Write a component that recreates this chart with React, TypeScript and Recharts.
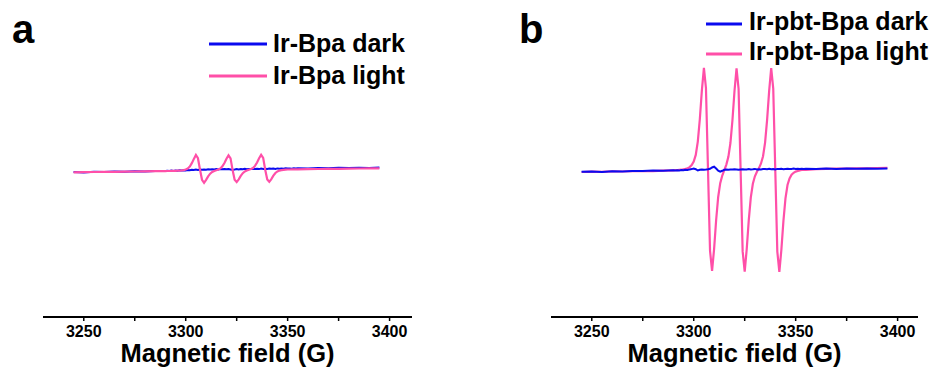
import { Legend, Line, LineChart, XAxis, YAxis } from "recharts";

// magnetic field (G) at which each point was read, finer around the three lines
const fields = [
  3245, 3250, 3255, 3260, 3265, 3270, 3275, 3280, 3285,
  3290, 3291, 3292, 3293, 3294, 3295, 3296, 3297, 3298, 3299,
  3300, 3301, 3302, 3303, 3304, 3305, 3306, 3307, 3308, 3309,
  3310, 3311, 3312, 3313, 3314, 3315, 3316, 3317, 3318, 3319,
  3320, 3321, 3322, 3323, 3324, 3325, 3326, 3327, 3328, 3329,
  3330, 3331, 3332, 3333, 3334, 3335, 3336, 3337, 3338, 3339,
  3340, 3341, 3342, 3343, 3344, 3345, 3346, 3347, 3348, 3349,
  3350, 3351, 3352, 3353, 3354, 3355,
  3360, 3365, 3370, 3375, 3380, 3385, 3390, 3395,
];

// panel a: Ir-Bpa
const aDark = [
  -2.0, -2.4, -1.7, -2.0, -1.5, -1.8, -1.2, -1.5, -0.9,
  -1.1, -0.8, -1.0, -0.6, -0.9, -0.5, -0.7, -0.3, -0.6, -0.2,
  -0.4, 0.0, -0.3, 0.2, 0.0, 0.4, 0.1, 0.5, 0.2, 0.6,
  0.3, 0.7, 0.4, 0.8, 0.5, 0.9, 0.6, 1.0, 0.7, 1.1,
  0.8, 1.0, 0.6, 0.2, 0.5, 0.9, 0.6, 1.0, 0.7, 1.2,
  0.8, 1.1, 0.9, 1.3, 1.0, 1.2, 0.9, 1.4, 1.1, 1.3,
  1.0, 1.5, 1.2, 1.4, 1.1, 1.6, 1.3, 1.5, 1.2, 1.7,
  1.4, 1.6, 1.3, 1.7, 1.5, 1.8,
  1.6, 2.0, 1.8, 2.2, 1.9, 2.3, 2.1, 2.4,
];
const aLight = [
  -2.3, -2.1, -2.0, -1.9, -1.8, -1.6, -1.5, -1.4, -1.2,
  -1.1, -1.0, -1.0, -0.9, -0.9, -0.8, -0.7, -0.6, -0.4, -0.1,
  0.5, 1.5, 3.5, 6.8, 11.1, 15.0, 11.8, 0.5, -9.8, -12.8,
  -9.8, -6.4, -3.7, -2.0, -1.0, -0.3, 0.5, 1.6, 3.7, 7.0,
  11.3, 14.7, 11.7, -0.1, -9.8, -12.1, -9.4, -5.9, -3.2, -1.5,
  -0.6, 0.2, 0.9, 2.0, 4.1, 7.5, 11.7, 15.1, 12.1, 0.2,
  -9.4, -11.8, -9.1, -5.7, -3.0, -1.4, -0.6, -0.2, 0.1, 0.3,
  0.5, 0.5, 0.6, 0.6, 0.7, 0.7,
  0.9, 1.0, 1.1, 1.2, 1.4, 1.5, 1.6, 1.7,
];

// panel b: Ir-pbt-Bpa
const bDark = [
  -1.8, -1.5, -1.9, -1.2, -1.4, -0.9, -1.1, -0.6, -0.8,
  -0.3, -0.5, -0.2, -0.4, 0.0, -0.2, 0.3, 0.1, 0.6, 0.9,
  1.5, 0.8, -0.5, 0.2, 0.6, 0.3, 0.5, 0.8, 1.2, 2.5,
  3.3, 1.5, -0.6, -1.6, -0.8, 0.2, 0.5, 0.3, 0.6, 0.4,
  0.7, 0.5, 0.3, 0.6, 0.8, 0.4, 0.6, 0.9, 0.5, 0.7,
  1.1, 0.6, 0.8, 0.5, 0.9, 1.0, 0.7, 1.2, 0.8, 1.0,
  0.6, 1.1, 0.9, 1.3, 0.8, 1.0, 1.2, 0.9, 1.1, 1.4,
  1.0, 1.2, 0.9, 1.3, 1.1, 1.2,
  1.0, 1.4, 1.1, 1.6, 1.2, 1.5, 1.3, 1.6,
];
const bLight = [
  -2.0, -1.7, -1.8, -1.4, -1.5, -1.2, -1.0, -1.1, -0.7,
  -0.3, -0.2, -0.1, 0.1, 0.3, 0.8, 1.2, 1.8, 2.9, 4.9,
  8.5, 15.1, 28.4, 51.0, 79.6, 102.1, 82.0, 0.6, -80.8, -100.8,
  -78.8, -50.0, -27.0, -13.2, -5.5, -0.1, 5.4, 13.2, 27.0, 50.0,
  79.0, 101.6, 81.3, 0.0, -81.4, -101.6, -79.0, -50.2, -27.4, -13.8,
  -6.3, -1.7, 1.9, 6.5, 13.8, 27.4, 50.4, 79.1, 101.8, 81.5,
  0.0, -81.6, -101.9, -79.5, -50.9, -28.4, -15.0, -8.4, -4.7, -2.8,
  -1.6, -1.0, -0.4, 0.0, 0.1, 0.2,
  0.8, 1.1, 1.5, 1.3, 1.7, 1.6, 2.0, 2.2,
];

const xTicks = [3250, 3275, 3300, 3325, 3350, 3375, 3400];
const xTickLabels = ["3250", "", "3300", "", "3350", "", "3400"];

const BLUE = "#0a0aef";
const PINK = "#ff4fa8";
const FONT = '"Liberation Sans", Arial, Helvetica, sans-serif';

const FieldTick = (props: any) => {
  const { x, y, payload } = props;
  const label = xTickLabels[xTicks.indexOf(payload.value)];
  if (!label) return <g />;
  return (
    <text
      x={x}
      y={y}
      dy={14}
      textAnchor="middle"
      fill="#000"
      style={{ fontSize: 16, fontWeight: "bold", fontFamily: FONT }}
    >
      {label}
    </text>
  );
};

interface LegendBox {
  left: number;
  top: number;
  x1: number;
  x2: number;
  tx: number;
  rows: number[];
  baseline: number;
}

const makeLegend = (order: string[], box: LegendBox) => (props: any) => {
  const items = [...(props.payload ?? [])].sort(
    (p: any, q: any) => order.indexOf(p.value) - order.indexOf(q.value)
  );
  return (
    <svg width={260} height={90} style={{ display: "block", overflow: "visible" }}>
      {items.map((it: any, i: number) => (
        <g key={it.value}>
          <line x1={box.x1} x2={box.x2} y1={box.rows[i]} y2={box.rows[i]} stroke={it.color} strokeWidth={3} />
          <text x={box.tx} y={box.rows[i] + box.baseline} fontSize={25} fontWeight="bold" fill="#000">
            {it.value}
          </text>
        </g>
      ))}
    </svg>
  );
};

interface PanelProps {
  letter: string;
  letterX: number;
  left: number;
  width: number;
  margin: { top: number; right: number; bottom: number; left: number };
  domain: [number, number];
  darkName: string;
  lightName: string;
  dark: number[];
  light: number[];
  darkOnTop: boolean;
  legend: LegendBox;
}

const Panel = (p: PanelProps) => {
  const data = fields.map((f, i) => ({ field: f, dark: p.dark[i], light: p.light[i] }));
  const darkLine = (
    <Line key="dark" type="linear" dataKey="dark" name={p.darkName} stroke={BLUE} strokeWidth={2}
      dot={false} activeDot={false} isAnimationActive={false} />
  );
  const lightLine = (
    <Line key="light" type="linear" dataKey="light" name={p.lightName} stroke={PINK} strokeWidth={2.2}
      dot={false} activeDot={false} isAnimationActive={false} />
  );
  return (
    <div style={{ position: "absolute", left: p.left, top: 0 }}>
      <LineChart width={p.width} height={372} data={data} margin={p.margin}>
        <XAxis
          type="number"
          dataKey="field"
          domain={p.domain}
          allowDataOverflow
          ticks={xTicks}
          tick={FieldTick}
          tickSize={4}
          tickLine={{ stroke: "#000", strokeWidth: 1.5 }}
          axisLine={{ stroke: "#000", strokeWidth: 2 }}
          height={30}
          label={{
            value: "Magnetic field (G)",
            position: "bottom",
            offset: -3,
            fontSize: 25.5,
            fontWeight: "bold",
            fill: "#000",
          }}
        />
        <YAxis hide type="number" domain={[-147, 140]} allowDataOverflow />
        {p.darkOnTop ? [lightLine, darkLine] : [darkLine, lightLine]}
        <Legend
          layout="vertical"
          align="center"
          verticalAlign="middle"
          wrapperStyle={{ left: p.legend.left, top: p.legend.top, width: 260, height: 90 }}
          content={makeLegend([p.darkName, p.lightName], p.legend)}
        />
      </LineChart>
      <div
        style={{
          position: "absolute",
          left: p.letterX,
          top: 9,
          fontSize: 40,
          lineHeight: "40px",
          fontWeight: "bold",
        }}
      >
        {p.letter}
      </div>
    </div>
  );
};

export default function App() {
  return (
    <div
      style={{
        position: "absolute",
        left: 0,
        top: 0,
        width: 933,
        height: 372,
        background: "#fff",
        fontFamily: FONT,
      }}
    >
      <Panel
        letter="a"
        letterX={12}
        left={0}
        width={466}
        margin={{ top: 30, right: 54, bottom: 25, left: 43 }}
        domain={[3230, 3411]}
        darkName="Ir-Bpa dark"
        lightName="Ir-Bpa light"
        dark={aDark}
        light={aLight}
        darkOnTop={false}
        legend={{ left: 205, top: 20, x1: 4, x2: 62, tx: 68, rows: [24, 56], baseline: 8 }}
      />
      <Panel
        letter="b"
        letterX={53}
        left={466}
        width={467}
        margin={{ top: 30, right: 15, bottom: 25, left: 85 }}
        domain={[3230, 3410]}
        darkName="Ir-pbt-Bpa dark"
        lightName="Ir-pbt-Bpa light"
        dark={bDark}
        light={bLight}
        darkOnTop={true}
        legend={{ left: 236, top: 0, x1: 4, x2: 40, tx: 47, rows: [24, 54], baseline: 6 }}
      />
    </div>
  );
}
